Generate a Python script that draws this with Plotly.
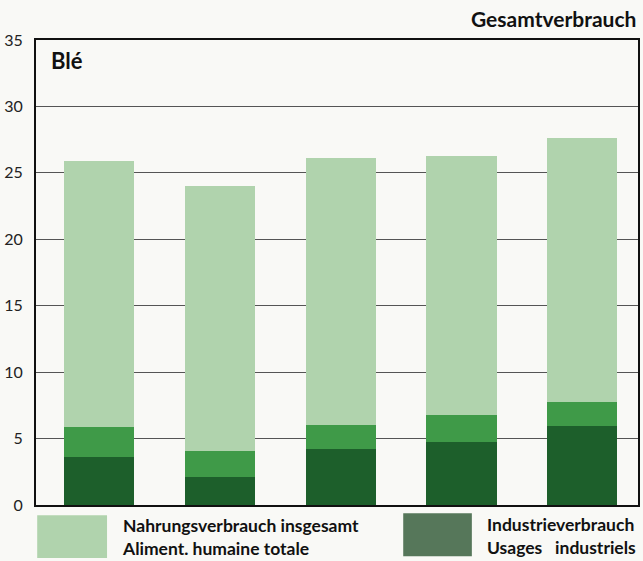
import plotly.graph_objects as go

# Five bars (years not labelled on the original)
categories = ['1', '2', '3', '4', '5']
industrial = [3.6, 2.1, 4.2, 4.75, 5.95]
other_use = [2.27, 1.96, 1.8, 2.05, 1.8]
food_total = [20.03, 19.94, 20.1, 19.5, 19.85]

y_ticks = [0, 5, 10, 15, 20, 25, 30, 35]

dark_green = '#1d5f2b'
mid_green = '#3f9a48'
light_green = '#b0d3ad'
font_family = 'Lato, Open Sans, sans-serif'

fig = go.Figure()

fig.add_trace(go.Bar(x=categories, y=industrial, name='Industrieverbrauch',
                     marker=dict(color=dark_green, line=dict(width=0)),
                     width=0.58, showlegend=False))
fig.add_trace(go.Bar(x=categories, y=other_use, name='Sonstiges',
                     marker=dict(color=mid_green, line=dict(width=0)),
                     width=0.58, showlegend=False))
fig.add_trace(go.Bar(x=categories, y=food_total, name='Nahrungsverbrauch insgesamt',
                     marker=dict(color=light_green, line=dict(width=0)),
                     width=0.58, showlegend=False))

fig.update_layout(
    barmode='stack',
    width=643, height=561,
    paper_bgcolor='#f9f9f6',
    plot_bgcolor='#f9f9f6',
    margin=dict(l=36, r=5, t=40, b=56),
    font=dict(family=font_family, color='#222'),
    xaxis=dict(
        range=[-0.52, 4.46],
        showticklabels=False,
        ticks='',
        showgrid=False,
        showline=True, linecolor='#111', linewidth=2, mirror=True,
        zeroline=False,
        automargin=False,
    ),
    yaxis=dict(
        range=[0, 35],
        tickvals=y_ticks,
        tickfont=dict(size=16, family=font_family, color='#222'),
        ticks='',
        ticklabelstandoff=8,
        showgrid=True, gridcolor='#555', gridwidth=1,
        showline=True, linecolor='#111', linewidth=2, mirror=True,
        zeroline=False,
        automargin=False,
    ),
)

# Titles
fig.add_annotation(xref='paper', yref='paper', x=1.0, y=1.0, yshift=22,
                   xanchor='right', yanchor='middle', showarrow=False,
                   text='<b>Gesamtverbrauch</b>', font=dict(size=21, color='#111'))
fig.add_annotation(xref='paper', yref='paper', x=0.022, y=0.99,
                   xanchor='left', yanchor='top', showarrow=False,
                   text='<b>Blé</b>', font=dict(size=22, color='#111'))

# Custom legend below the plot
fig.add_shape(type='rect', xref='paper', yref='paper',
              x0=0.002, x1=0.118, y0=-0.114, y1=-0.022,
              fillcolor=light_green, line=dict(width=0))
fig.add_annotation(xref='paper', yref='paper', x=0.14, y=-0.068,
                   xanchor='left', yanchor='middle', showarrow=False, align='left',
                   text='<b>Nahrungsverbrauch insgesamt<br>Aliment. humaine totale</b>',
                   font=dict(size=17.5, color='#111'))
fig.add_shape(type='rect', xref='paper', yref='paper',
              x0=0.610, x1=0.724, y0=-0.110, y1=-0.018,
              fillcolor='#56775a', line=dict(width=0))
fig.add_annotation(xref='paper', yref='paper', x=0.746, y=-0.066,
                   xanchor='left', yanchor='middle', showarrow=False, align='left',
                   text='<b>Industrieverbrauch<br>Usages   industriels</b>',
                   font=dict(size=17.5, color='#111'))

fig.write_html('out.html', config={'displayModeBar': False},
               post_script="document.body.style.margin='0';")
